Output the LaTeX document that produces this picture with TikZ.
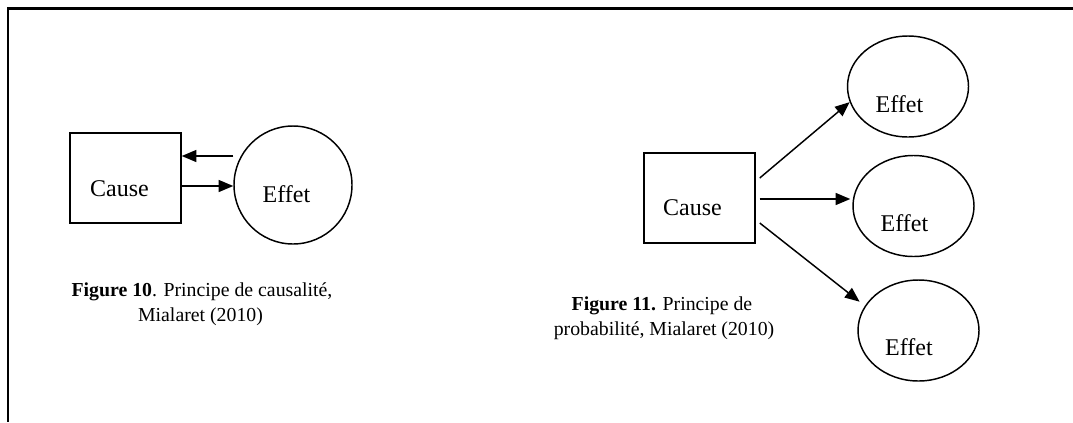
\documentclass[tikz,border=0pt]{standalone}
\usepackage{fontspec}
\setmainfont{Liberation Serif}
\usetikzlibrary{arrows.meta,shapes.geometric}
\begin{document}
\begin{tikzpicture}[x=0.75pt,y=-0.75pt,
  shapeline/.style={draw=black,line width=1.1pt},
  box/.style={shapeline,rectangle,minimum width=83.25pt,minimum height=67.5pt,inner sep=0pt},
  circ/.style={shapeline,circle,minimum size=88.5pt,inner sep=0pt},
  ell/.style={shapeline,ellipse,minimum width=90.75pt,minimum height=75.75pt,inner sep=0pt},
  lbl/.style={font=\fontsize{18}{21}\selectfont,anchor=base,inner sep=0pt},
  captxt/.style={font=\fontsize{14.85}{18}\selectfont,anchor=base,inner sep=0pt},
  arr/.style={line width=1.1pt,-{Triangle[length=11pt,width=9pt]}},
  frame/.style={draw=black}]
\useasboundingbox (0,0) rectangle (1073,422);
% frame
\draw[frame,line width=1.9pt] (7,8.7) -- (1073,8.7);
\draw[frame,line width=1.5pt] (8.3,8.7) -- (8.3,422);

% Figure 10
\node[box] (causeL) at (125.5,178) {};
\node[lbl] (causeLt) at (119.5,196.5) {Cause};
\node[circ] (effL) at (293,185) {};
\node[lbl] (effLt) at (286.5,202) {Effet};
\draw[arr] ([yshift=21.75pt]effL.west) -- ([yshift=16.5pt]causeL.east);
\draw[arr] ([yshift=-6pt]causeL.east) -- ([yshift=-0.75pt]effL.west);
\node[captxt] (cap10a) at (202,296) {\textbf{Figure 10}. Principe de causalité,};
\node[captxt] (cap10b) at (200.5,321) {Mialaret (2010)};

% Figure 11
\node[box] (causeR) at (699.5,198) {};
\node[lbl] (causeRt) at (692.5,215) {Cause};
\node[ell] (effT) at (908,86.5) {};
\node[lbl] (effTt) at (899.5,112.5) {Effet};
\node[ell] (effM) at (913.5,206) {};
\node[lbl] (effMt) at (904.5,231.5) {Effet};
\node[ell] (effB) at (918.5,330.5) {};
\node[lbl] (effBt) at (909,355.5) {Effet};
\draw[arr] ([xshift=3pt,yshift=15pt]causeR.east) -- (effT.195);
\draw[arr] ([xshift=3pt,yshift=-0.75pt]causeR.east) -- ([xshift=-1.5pt,yshift=5.25pt]effM.west);
\draw[arr] ([xshift=3pt,yshift=-18.75pt]causeR.east) -- ([shift={(-4.5pt,2.25pt)}]effB.154);
\node[captxt] (cap11a) at (662,310) {\textbf{Figure 11.} Principe de};
\node[captxt] (cap11b) at (664,335) {probabilité, Mialaret (2010)};
\end{tikzpicture}
\end{document}
